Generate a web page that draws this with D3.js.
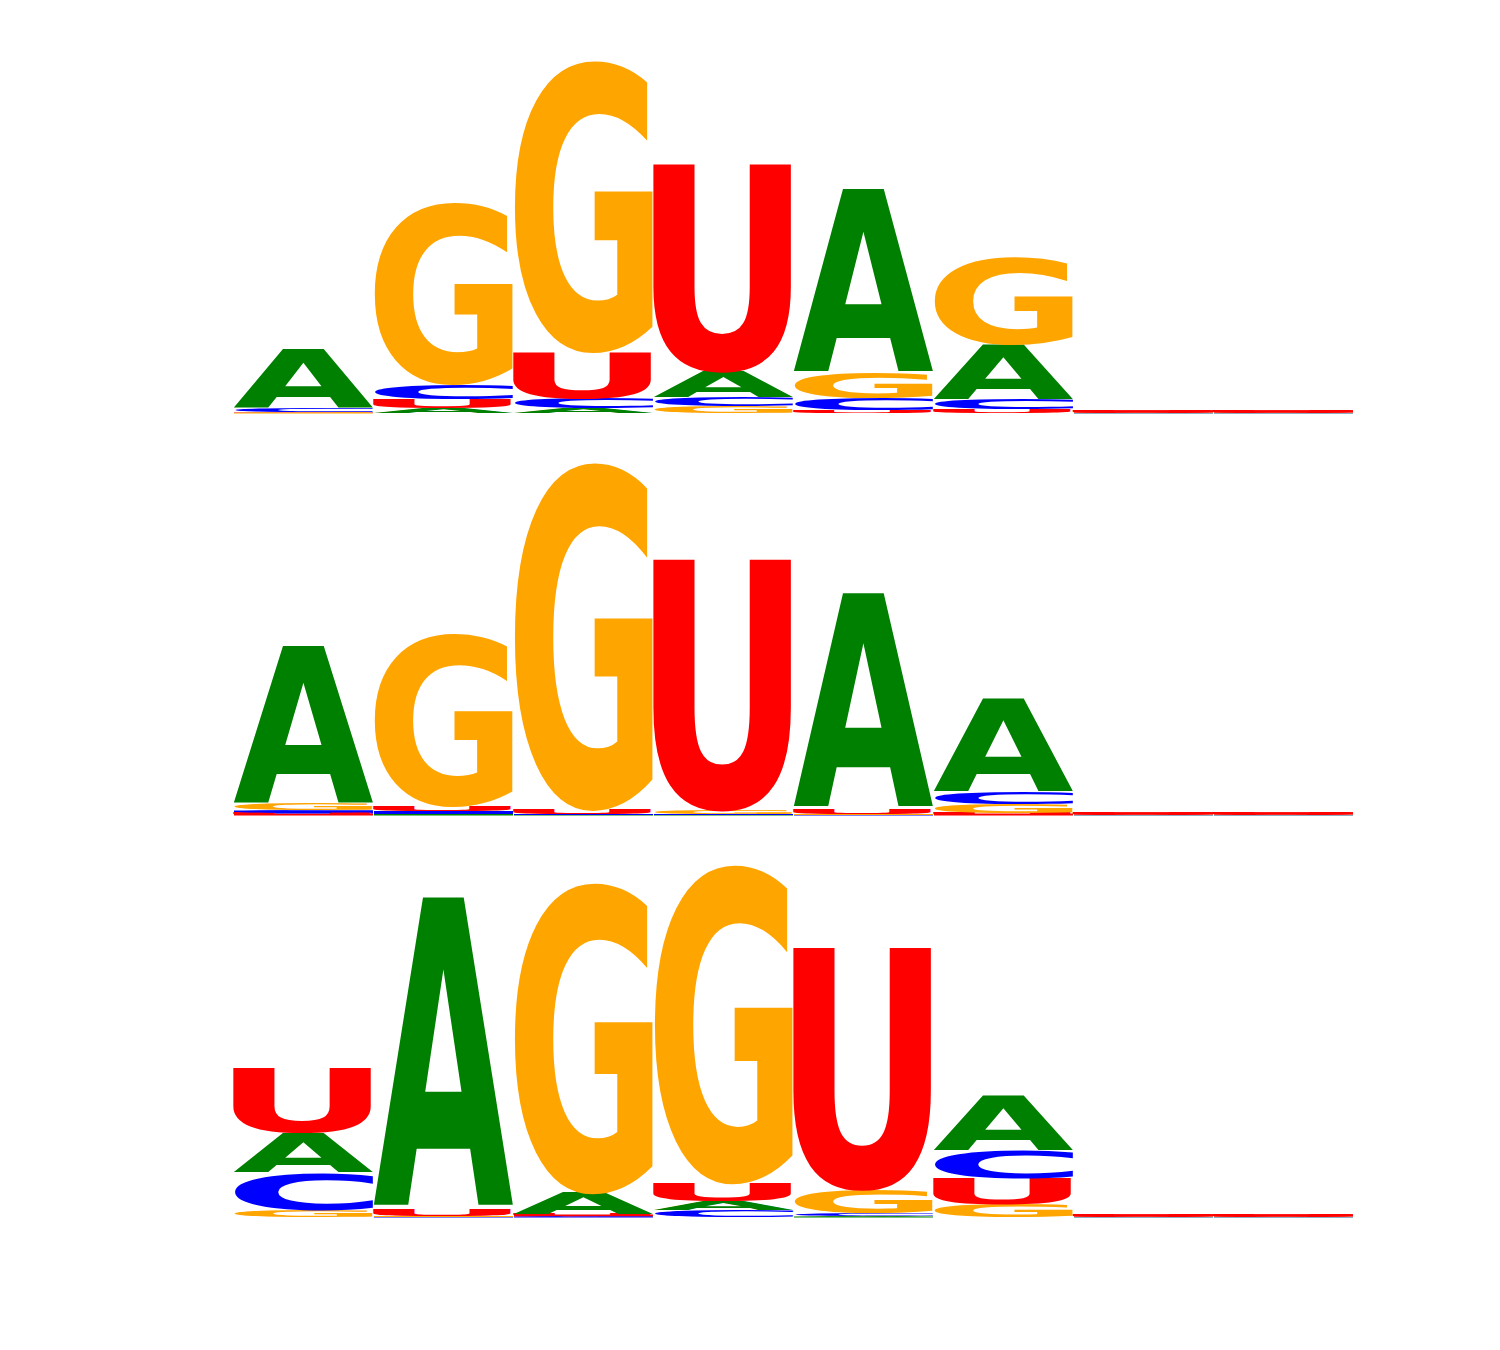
<!DOCTYPE html>
<html>
<head>
<meta charset="utf-8">
<script src="https://cdn.jsdelivr.net/npm/d3@7"></script>
<style>
  body { margin: 0; background: white; }
</style>
</head>
<body>
<div id="chart"></div>
<script>
var positions = [1, 2, 3, 4, 5, 6, 7, 8];
var letters = ['A', 'C', 'G', 'U'];
var colors = {'A': 'green', 'C': 'blue', 'G': 'orange', 'U': 'red'};

// heights in bits, one array per letter, one block per logo
var logo1A = [0.295, 0.025, 0.025, 0.13, 0.925, 0.275, 0.0015, 0.0015];
var logo1C = [0.02, 0.075, 0.05, 0.045, 0.06, 0.05, 0.0015, 0.0015];
var logo1G = [0.0025, 0.915, 1.465, 0.035, 0.125, 0.44, 0.0015, 0.0015];
var logo1U = [0.0025, 0.045, 0.235, 1.05, 0.015, 0.02, 0.0125, 0.0125];

var logo2A = [0.79, 0.0075, 0.0025, 0.0025, 1.08, 0.47, 0.0015, 0.0015];
var logo2C = [0.015, 0.015, 0.005, 0.005, 0.0025, 0.06, 0.0015, 0.0015];
var logo2G = [0.03, 0.865, 1.745, 0.02, 0.005, 0.045, 0.0015, 0.0015];
var logo2U = [0.01, 0.025, 0.025, 1.27, 0.025, 0.01, 0.0125, 0.0125];

var logo3A = [0.2, 1.56, 0.11, 0.045, 0.005, 0.28, 0.0015, 0.0015];
var logo3C = [0.19, 0.0025, 0.005, 0.035, 0.015, 0.14, 0.0015, 0.0015];
var logo3G = [0.035, 0.005, 1.56, 1.6, 0.12, 0.065, 0.0015, 0.0015];
var logo3U = [0.325, 0.035, 0.01, 0.095, 1.225, 0.13, 0.0125, 0.0125];

var logos = [
  {'A': logo1A, 'C': logo1C, 'G': logo1G, 'U': logo1U},
  {'A': logo2A, 'C': logo2C, 'G': logo2G, 'U': logo2U},
  {'A': logo3A, 'C': logo3C, 'G': logo3G, 'U': logo3U}
];
var baselines = [413.5, 815.5, 1217.5];

var width = 1500, height = 1350;
var fontSpec = "bold 100px 'DejaVu Sans'";

// ink box of each glyph, so a letter can be stretched to fill its cell
var canvas = document.createElement('canvas');
var ctx = canvas.getContext('2d');
ctx.font = fontSpec;
var ink = {};
letters.forEach(function(l) {
  var m = ctx.measureText(l);
  ink[l] = {
    left: m.actualBoundingBoxLeft,
    asc: m.actualBoundingBoxAscent,
    w: m.actualBoundingBoxLeft + m.actualBoundingBoxRight,
    h: m.actualBoundingBoxAscent + m.actualBoundingBoxDescent
  };
});

var svg = d3.select('#chart')
  .append('svg')
  .attr('width', width)
  .attr('height', height);

svg.append('rect')
  .attr('width', width)
  .attr('height', height)
  .attr('fill', 'white');

var x = d3.scaleBand()
  .domain(positions)
  .range([233, 1353])
  .padding(0);

logos.forEach(function(logo, k) {
  var y = d3.scaleLinear()
    .domain([0, 2])
    .range([baselines[k], baselines[k] - 400]);

  // stack letters per column, smallest at the bottom
  var glyphs = [];
  positions.forEach(function(p, i) {
    var col = letters.map(function(l) { return {letter: l, value: logo[l][i]}; });
    col.sort(function(a, b) { return a.value - b.value; });
    var acc = 0;
    col.forEach(function(d) {
      glyphs.push({pos: p, letter: d.letter, y0: acc, y1: acc + d.value});
      acc += d.value;
    });
  });

  function px(d) { return y(d.y0) - y(d.y1); }

  var g = svg.append('g');

  // letters squashed below a few pixels show up as a flat band of colour
  g.selectAll('rect')
    .data(glyphs.filter(function(d) { return px(d) < 3; }))
    .enter()
    .append('rect')
    .attr('x', function(d) { return x(d.pos) + 1; })
    .attr('y', function(d) { return y(d.y1); })
    .attr('width', x.bandwidth() - 1)
    .attr('height', function(d) { return px(d); })
    .attr('fill', function(d) { return colors[d.letter]; });

  g.selectAll('text')
    .data(glyphs)
    .enter()
    .append('text')
    .attr('transform', function(d) {
      var box = ink[d.letter];
      var w = x.bandwidth();
      return 'translate(' + x(d.pos) + ',' + y(d.y1) + ')'
        + ' scale(' + (w / box.w) + ',' + (px(d) / box.h) + ')'
        + ' translate(' + box.left + ',' + box.asc + ')';
    })
    .attr('font-family', "'DejaVu Sans'")
    .attr('font-weight', 'bold')
    .attr('font-size', 100)
    .attr('fill', function(d) { return colors[d.letter]; })
    .text(function(d) { return d.letter; });
});
</script>
</body>
</html>
